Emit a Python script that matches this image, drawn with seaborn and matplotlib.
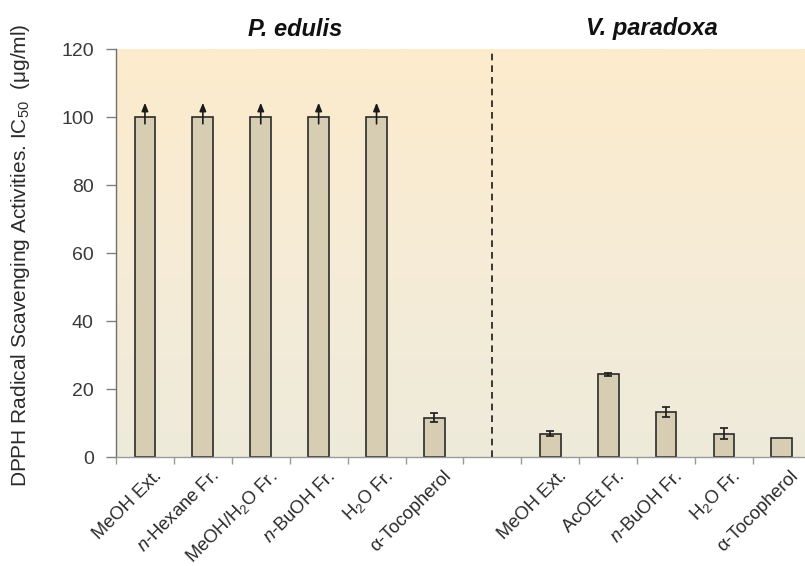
import numpy as np
import pandas as pd
import seaborn as sns
import matplotlib.pyplot as plt
import matplotlib.transforms as mtransforms
from matplotlib.colors import LinearSegmentedColormap

# ---------------- data ----------------
groups = ["P. edulis", "V. paradoxa"]
p_labels = ["MeOH Ext.", "$n$-Hexane Fr.", "MeOH/H$_2$O Fr.", "$n$-BuOH Fr.", "H$_2$O Fr.", "α-Tocopherol"]
p_values = [100, 100, 100, 100, 100, 11.6]
p_errors = [0, 0, 0, 0, 0, 1.2]
p_above = [True, True, True, True, True, False]   # ">100" arrows

v_labels = ["MeOH Ext.", "AcOEt Fr.", "$n$-BuOH Fr.", "H$_2$O Fr.", "α-Tocopherol"]
v_values = [6.9, 24.3, 13.2, 6.9, 5.6]
v_errors = [0.8, 0.5, 1.4, 1.6, 0.0]

y_ticks = [0, 20, 40, 60, 80, 100, 120]

# ---------------- table ----------------
keys = [f"P{i}" for i in range(len(p_labels))] + ["gap"] + [f"V{i}" for i in range(len(v_labels))]
data_keys = [f"P{i}" for i in range(len(p_labels))] + [f"V{i}" for i in range(len(v_labels))]
df = pd.DataFrame({
    "key": data_keys,
    "value": p_values + v_values,
    "err": p_errors + v_errors,
})
tick_labels = p_labels + [""] + v_labels

# ---------------- figure ----------------
sns.set_theme(style="white")
plt.rcParams["font.family"] = ["Liberation Sans", "DejaVu Sans"]
plt.rcParams["mathtext.fontset"] = "custom"
plt.rcParams["mathtext.rm"] = "Liberation Sans"
plt.rcParams["mathtext.it"] = "Liberation Sans:italic"

fig = plt.figure(figsize=(8.05, 5.66), dpi=100)
W, H = 805, 566
ax = fig.add_axes([116 / W, 1 - 457 / H, (810.8 - 116) / W, (457 - 49) / H])

# gradient background
cmap = LinearSegmentedColormap.from_list("bg", ["#EEEADB", "#F6ECD6", "#FDEBCC"])
grad = np.linspace(0, 1, 256).reshape(-1, 1)
ax.imshow(grad, cmap=cmap, aspect="auto", extent=[0, 1, 0, 1], origin="lower",
          transform=ax.transAxes, zorder=0)

sns.barplot(data=df, x="key", y="value", order=keys, ax=ax, width=0.36,
            color="#D6CDB2", saturation=1, edgecolor="#2b2b2b", linewidth=1.2,
            errorbar=None, zorder=2)

# error bars
pos = {k: i for i, k in enumerate(keys)}
xs = np.array([pos[k] for k in df["key"]])
mask = df["err"].values > 0
ax.errorbar(xs[mask], df["value"].values[mask], yerr=df["err"].values[mask],
            fmt="none", ecolor="#1a1a1a", elinewidth=1.2, capsize=3, capthick=1.2, zorder=3)

# arrows for values > 100
for i, (v, up) in enumerate(zip(p_values, p_above)):
    if up:
        ax.annotate("", xy=(pos[f"P{i}"], v + 4.2), xytext=(pos[f"P{i}"], v - 2),
                    arrowprops=dict(arrowstyle="-|>,head_length=0.4,head_width=0.16",
                                    color="#1a1a1a", lw=1.2, shrinkA=0, shrinkB=0),
                    zorder=4)

# separator
ax.axvline(pos["gap"], color="#1a1a1a", lw=1.2, ls=(0, (4, 3)), zorder=3)

ax.set_xlim(-0.5, len(keys) - 0.5)
ax.set_ylim(0, 120)
ax.set_yticks(y_ticks)
ax.set_yticklabels([str(t) for t in y_ticks], fontsize=14, color="#3a3a3a")
ax.tick_params(axis="y", direction="out", length=7, width=1, color="#808080", pad=9, left=True)

# x: labels at centers, ticks at boundaries
ax.set_xticks(range(len(keys)))
ax.set_xticklabels(tick_labels, fontsize=13.2, color="#2a2a2a", rotation=45,
                   ha="right", va="center", rotation_mode="anchor")
ax.tick_params(axis="x", which="major", length=0, pad=12)
ax.set_xticks(np.arange(-0.5, len(keys), 1.0), minor=True)
ax.tick_params(axis="x", which="minor", direction="out", length=5, width=1, color="#999999", bottom=True)
offset = mtransforms.ScaledTranslation(14 / 100, 0, fig.dpi_scale_trans)
for lab in ax.get_xticklabels():
    lab.set_transform(lab.get_transform() + offset)

ax.set_xlabel("")
ax.set_ylabel("")
for s in ["top", "right"]:
    ax.spines[s].set_visible(False)
ax.spines["left"].set_color("#707070")
ax.spines["bottom"].set_color("#9a9a9a")
ax.spines["left"].set_linewidth(1)
ax.spines["bottom"].set_linewidth(1)
ax.grid(False)

# y label
fig.text(21 / W, 1 - 255 / H, "DPPH Radical Scavenging Activities. IC$_{50}$  (μg/ml)",
         rotation=90, ha="center", va="center", fontsize=15, color="#2a2a2a")

# group titles
fig.text(295 / W, 1 - 36 / H, groups[0], ha="center", va="baseline",
         fontsize=17, fontweight="bold", fontstyle="italic", color="#111111")
fig.text(652 / W, 1 - 35 / H, groups[1], ha="center", va="baseline",
         fontsize=17, fontweight="bold", fontstyle="italic", color="#111111")

fig.savefig("out.png", dpi=100)
